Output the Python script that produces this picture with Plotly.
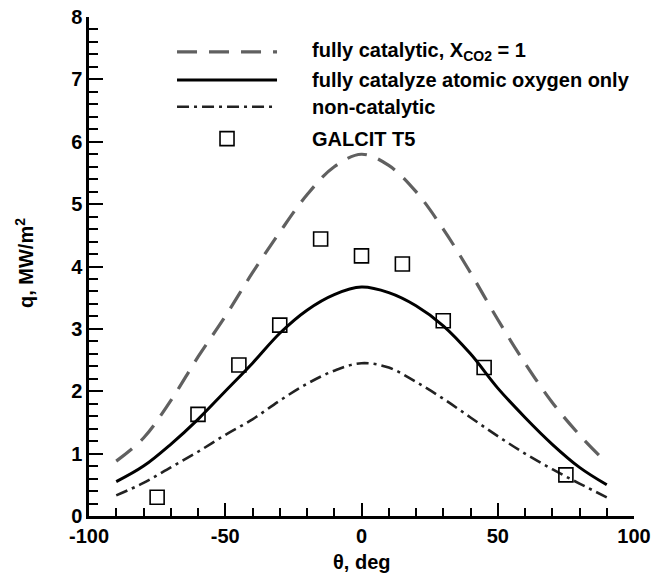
import plotly.graph_objects as go

# ---- data ----
theta_curve = [-90, -80, -70, -60, -50, -40, -30, -20, -10, 0, 10, 20, 30, 40, 50, 60, 70, 80, 90]
q_fully_cat = [0.88, 1.25, 1.85, 2.55, 3.2, 3.9, 4.55, 5.15, 5.6, 5.8, 5.62, 5.2, 4.6, 3.9, 3.15, 2.45, 1.82, 1.3, 0.85]
q_atomic_o = [0.55, 0.8, 1.15, 1.55, 2.0, 2.45, 2.93, 3.3, 3.55, 3.67, 3.58, 3.37, 3.05, 2.6, 2.05, 1.58, 1.15, 0.78, 0.5]
q_noncat = [0.33, 0.53, 0.78, 1.03, 1.3, 1.55, 1.85, 2.12, 2.33, 2.45, 2.38, 2.15, 1.88, 1.58, 1.28, 1.0, 0.75, 0.52, 0.3]

theta_exp = [-75, -60, -45, -30, -15, 0, 15, 30, 45, 75]
q_exp = [0.3, 1.63, 2.42, 3.06, 4.44, 4.17, 4.04, 3.13, 2.38, 0.66]

names = ["fully catalytic, X<sub>CO2</sub> = 1",
         "fully catalyze atomic oxygen only",
         "non-catalytic",
         "GALCIT T5"]

x_tickvals = [-100, -50, 0, 50, 100]
x_ticktext = ["-100", "-50", "0", "50", "100"]
x_title = "θ, deg"
y_title = "q, MW/m<sup>2</sup>"

FONT = "Liberation Sans, Arial, Helvetica, sans-serif"

fig = go.Figure()

dash_full = "20px,12px"
dash_nc = "12px,5px,3px,5px"
style_full = dict(color="#606060", width=3.2, dash=dash_full)
style_atom = dict(color="black", width=3)
style_nc = dict(color="#222222", width=2.6, dash=dash_nc)

fig.add_trace(go.Scatter(x=theta_curve, y=q_fully_cat, mode="lines", line_shape="spline",
                         line=style_full, name=names[0], showlegend=False))
fig.add_trace(go.Scatter(x=theta_curve, y=q_atomic_o, mode="lines", line_shape="spline",
                         line=style_atom, name=names[1], showlegend=False))
fig.add_trace(go.Scatter(x=theta_curve, y=q_noncat, mode="lines", line_shape="spline",
                         line=style_nc, name=names[2], showlegend=False))
fig.add_trace(go.Scatter(x=theta_exp, y=q_exp, mode="markers",
                         marker=dict(symbol="square-open", size=14, color="black",
                                     line=dict(width=1.6, color="black")),
                         name=names[3], showlegend=False))

# ---- manual legend (long line samples as in the reference) ----
leg_x0, leg_x1, leg_text_x = -67.7, -31.0, -18.8
leg_rows = [7.44, 6.99, 6.56, 6.05]
styles = [style_full, style_atom, style_nc]
shapes = []
for i in range(3):
    shapes.append(dict(type="line", xref="x", yref="y", x0=leg_x0, x1=leg_x1,
                       y0=leg_rows[i], y1=leg_rows[i], line=styles[i]))
shapes.append(dict(type="rect", xref="x", yref="y", xsizemode="pixel", ysizemode="pixel",
                   xanchor=(leg_x0 + leg_x1) / 2, yanchor=leg_rows[3],
                   x0=-7, x1=7, y0=-7, y1=7, line=dict(color="black", width=1.6)))
txtfont = dict(family=FONT, size=20, color="black", weight="bold")
annotations = []
for i, nm in enumerate(names):
    annotations.append(dict(x=leg_text_x, y=leg_rows[i], xref="x", yref="y", text=nm,
                            showarrow=False, xanchor="left", yanchor="middle", font=txtfont))
# axis titles
annotations.append(dict(x=0.5, y=0, xref="paper", yref="paper", text=x_title, showarrow=False,
                        xanchor="center", yanchor="middle", yshift=-46, font=txtfont))
annotations.append(dict(x=0, y=0.507, xref="paper", yref="paper", text=y_title, showarrow=False,
                        xanchor="center", yanchor="middle", xshift=-65, textangle=-90,
                        font=txtfont))

fig.update_layout(
    width=657, height=573,
    margin=dict(l=89, r=23, t=17, b=57),
    paper_bgcolor="white", plot_bgcolor="white",
    shapes=shapes, annotations=annotations,
    showlegend=False,
)
fig.update_xaxes(range=[-100, 100], tickvals=x_tickvals, ticktext=x_ticktext,
                 showgrid=False, zeroline=False, automargin=False,
                 showline=True, linecolor="black", linewidth=2.5,
                 ticks="inside", ticklen=13, tickwidth=2, tickcolor="black",
                 minor=dict(dtick=10, ticks="inside", ticklen=8, tickwidth=1.5, tickcolor="black"),
                 tickfont=dict(family=FONT, size=20, color="black", weight="bold"))
fig.update_yaxes(range=[0, 8], dtick=1, showgrid=False, zeroline=False, automargin=False,
                 showline=True, linecolor="black", linewidth=2.5,
                 ticks="inside", ticklen=14, tickwidth=2, tickcolor="black",
                 minor=dict(dtick=0.2, ticks="inside", ticklen=9, tickwidth=1.5, tickcolor="black"),
                 tickfont=dict(family=FONT, size=20, color="black", weight="bold"))

fig.write_html("out.html")
